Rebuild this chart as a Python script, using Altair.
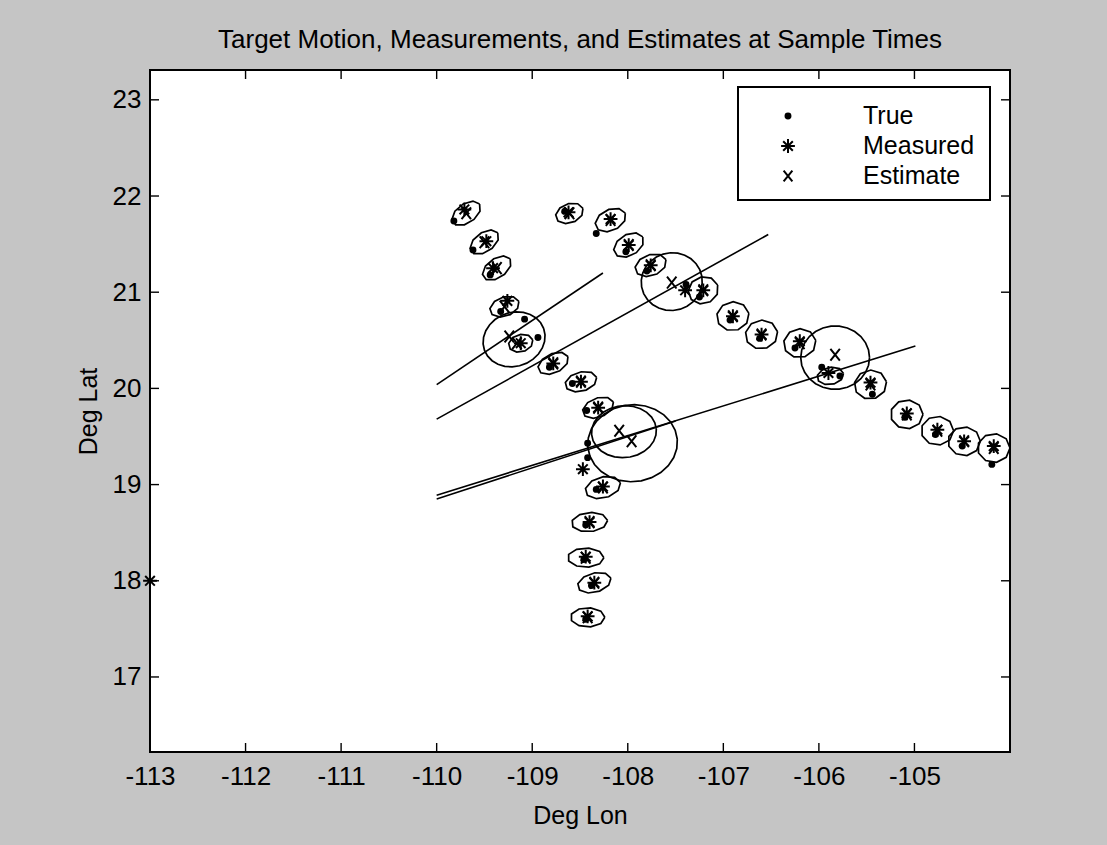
import altair as alt
import pandas as pd
import numpy as np

# ---------------- data ----------------
# Measured positions (asterisks)
meas_lon = [-109.71, -109.48, -109.41, -109.26, -109.12, -108.78, -108.49, -108.31,
            -108.62, -108.18, -107.99, -107.76, -107.40, -107.21, -106.90, -106.60,
            -106.20, -105.90, -105.46, -105.08, -104.76, -104.48, -104.17,
            -108.47, -108.26, -108.40, -108.44, -108.35, -108.42, -113.00]
meas_lat = [21.86, 21.53, 21.25, 20.91, 20.47, 20.26, 20.07, 19.80,
            21.83, 21.76, 21.49, 21.28, 21.02, 21.02, 20.75, 20.56,
            20.49, 20.16, 20.06, 19.74, 19.57, 19.45, 19.40,
            19.16, 18.98, 18.61, 18.25, 17.98, 17.63, 18.00]

# True positions (dots)
true_lon = [-109.82, -109.62, -109.44, -109.33, -109.08, -108.94, -108.82, -108.58, -108.43,
            -108.66, -108.33, -108.02, -107.80, -107.39, -107.25, -106.93, -106.62,
            -106.25, -105.97, -105.78, -105.44, -105.10, -104.78, -104.50, -104.19,
            -108.42, -108.42, -108.33, -108.44, -108.46, -108.38, -108.44]
true_lat = [21.74, 21.44, 21.18, 20.80, 20.72, 20.53, 20.22, 20.05, 19.77,
            21.84, 21.61, 21.42, 21.22, 21.08, 20.95, 20.71, 20.52,
            20.42, 20.22, 20.13, 19.94, 19.70, 19.52, 19.40, 19.21,
            19.43, 19.28, 18.95, 18.58, 18.22, 17.95, 17.60]

# Estimates (x marks)
est_lon = [-109.69, -109.50, -109.37, -109.29, -109.24, -109.16, -108.78, -108.49, -108.31,
           -108.61, -108.18, -107.99, -107.76, -107.54, -107.21, -106.90, -106.60,
           -106.20, -105.83, -105.46, -105.08, -104.76, -104.48, -104.17,
           -108.09, -107.96, -108.26, -108.40, -108.44, -108.35, -108.42]
est_lat = [21.82, 21.52, 21.25, 20.85, 20.54, 20.47, 20.26, 20.07, 19.80,
           21.82, 21.75, 21.49, 21.28, 21.10, 21.02, 20.75, 20.56,
           20.47, 20.35, 20.04, 19.73, 19.56, 19.45, 19.38,
           19.56, 19.45, 18.97, 18.61, 18.24, 17.98, 17.62]

# Error ellipses: centre, semi-axes (deg) and tilt (deg)
ell_lon = [-109.69, -109.50, -109.37, -109.29, -109.19, -109.12, -108.78, -108.49, -108.31,
           -108.61, -108.18, -107.99, -107.76, -107.54, -107.21, -106.90, -106.60,
           -106.20, -105.83, -105.88, -105.46, -105.08, -104.76, -104.48, -104.17,
           -108.04, -107.95, -108.26, -108.40, -108.44, -108.35, -108.42]
ell_lat = [21.82, 21.52, 21.25, 20.85, 20.51, 20.47, 20.26, 20.07, 19.80,
           21.82, 21.75, 21.49, 21.28, 21.11, 21.02, 20.75, 20.56,
           20.47, 20.32, 20.13, 20.04, 19.73, 19.56, 19.45, 19.38,
           19.55, 19.43, 18.97, 18.61, 18.24, 17.98, 17.62]
ell_a = [0.17, 0.17, 0.17, 0.16, 0.33, 0.13, 0.17, 0.17, 0.17,
         0.15, 0.17, 0.17, 0.17, 0.32, 0.16, 0.17, 0.17,
         0.17, 0.36, 0.14, 0.17, 0.17, 0.17, 0.17, 0.17,
         0.34, 0.47, 0.19, 0.19, 0.19, 0.18, 0.18]
ell_b = [0.10, 0.10, 0.10, 0.10, 0.28, 0.09, 0.10, 0.10, 0.10,
         0.10, 0.11, 0.11, 0.11, 0.30, 0.14, 0.15, 0.15,
         0.15, 0.33, 0.09, 0.15, 0.15, 0.15, 0.15, 0.15,
         0.27, 0.40, 0.11, 0.10, 0.10, 0.10, 0.10]
ell_tilt = [35, 35, 35, 20, 20, 15, 25, 15, 20,
            20, 25, 30, 20, 10, 20, 10, 10,
            10, 0, 10, 10, 0, 0, 0, 0,
            5, 5, 15, 5, 0, 15, 0]

# Lines of bearing: start and end
los_lon1 = [-110.00, -110.00, -110.00, -110.00]
los_lat1 = [20.04, 19.68, 18.89, 18.85]
los_lon2 = [-108.26, -106.53, -104.99, -107.50]
los_lat2 = [21.20, 21.60, 20.44, 19.66]

x_ticks = [-113, -112, -111, -110, -109, -108, -107, -106, -105]
y_ticks = [17, 18, 19, 20, 21, 22, 23]

legend_labels = ["True", "Measured", "Estimate"]

# ---------------- build tables ----------------
rows = []
for i in range(len(ell_lon)):
    big = ell_a[i] > 0.25
    n = 26 if big else 9
    th = np.radians(ell_tilt[i])
    for k in range(n + 1):
        t = 2 * np.pi * k / n
        ex = ell_a[i] * np.cos(t)
        ey = ell_b[i] * np.sin(t)
        rows.append({"id": i, "k": k,
                     "lon": ell_lon[i] + ex * np.cos(th) - ey * np.sin(th),
                     "lat": ell_lat[i] + ex * np.sin(th) + ey * np.cos(th)})
ell_df = pd.DataFrame(rows)

los_rows = []
for i in range(len(los_lon1)):
    los_rows.append({"id": i, "k": 0, "lon": los_lon1[i], "lat": los_lat1[i]})
    los_rows.append({"id": i, "k": 1, "lon": los_lon2[i], "lat": los_lat2[i]})
los_df = pd.DataFrame(los_rows)

meas_df = pd.DataFrame({"lon": meas_lon, "lat": meas_lat})
true_df = pd.DataFrame({"lon": true_lon, "lat": true_lat})
est_df = pd.DataFrame({"lon": est_lon, "lat": est_lat})
xt_df = pd.DataFrame({"v": x_ticks})
yt_df = pd.DataFrame({"v": y_ticks})
one = pd.DataFrame({"a": [0]})

W, H = 860, 682
FONT = "Liberation Sans, Arial, Helvetica"
ASTER = "M-1,0L1,0M0,-1L0,1M-0.7,-0.7L0.7,0.7M-0.7,0.7L0.7,-0.7"
XMARK = "M-0.8,-1L0.8,1M-0.8,1L0.8,-1"

xs = alt.Scale(domain=[-113, -104], nice=False, zero=False)
ys = alt.Scale(domain=[16.22, 23.31], nice=False, zero=False)

X = alt.X("lon:Q", scale=xs, title="Deg Lon",
          axis=alt.Axis(values=x_ticks, grid=False, ticks=False, tickSize=0, domain=False,
                        labelExpr="'' + datum.value", labelFlush=False, labelFont=FONT,
                        labelFontSize=26, labelColor="black", labelPadding=11,
                        titleFont=FONT, titleFontSize=25, titleFontWeight="normal",
                        titleColor="black", titleY=63, titleBaseline="middle"))
Y = alt.Y("lat:Q", scale=ys, title="Deg Lat",
          axis=alt.Axis(values=y_ticks, grid=False, ticks=False, tickSize=0, domain=False,
                        labelExpr="'' + datum.value", labelFlush=False, labelFont=FONT,
                        labelFontSize=26, labelColor="black", labelPadding=9,
                        titleFont=FONT, titleFontSize=25, titleFontWeight="normal",
                        titleColor="black", titleX=-62, titleY=H / 2,
                        titleAlign="center", titleBaseline="middle"))

ellipses = alt.Chart(ell_df).mark_line(color="black", strokeWidth=1.7).encode(
    x=X, y=Y, detail="id:N", order="k:Q")
lines = alt.Chart(los_df).mark_line(color="black", strokeWidth=1.6).encode(
    x=alt.X("lon:Q", scale=xs), y=alt.Y("lat:Q", scale=ys), detail="id:N", order="k:Q")
true_pts = alt.Chart(true_df).mark_point(shape="circle", filled=True, color="black", size=48, opacity=1).encode(
    x=alt.X("lon:Q", scale=xs), y=alt.Y("lat:Q", scale=ys))
meas_pts = alt.Chart(meas_df).mark_point(shape=ASTER, filled=False, color="black", size=190,
                                         strokeWidth=2.0, opacity=1).encode(
    x=alt.X("lon:Q", scale=xs), y=alt.Y("lat:Q", scale=ys))
est_pts = alt.Chart(est_df).mark_point(shape=XMARK, filled=False, color="black", size=140,
                                       strokeWidth=2.0, opacity=1).encode(
    x=alt.X("lon:Q", scale=xs), y=alt.Y("lat:Q", scale=ys))

# inward ticks on all four sides
tb = alt.Chart(xt_df).mark_rule(color="black", strokeWidth=1.4).encode(
    x=alt.X("v:Q", scale=xs), y=alt.value(H), y2=alt.value(H - 9))
tt = alt.Chart(xt_df).mark_rule(color="black", strokeWidth=1.4).encode(
    x=alt.X("v:Q", scale=xs), y=alt.value(0), y2=alt.value(9))
tl = alt.Chart(yt_df).mark_rule(color="black", strokeWidth=1.4).encode(
    y=alt.Y("v:Q", scale=ys), x=alt.value(0), x2=alt.value(9))
tr = alt.Chart(yt_df).mark_rule(color="black", strokeWidth=1.4).encode(
    y=alt.Y("v:Q", scale=ys), x=alt.value(W), x2=alt.value(W - 9))

# legend box (MATLAB style)
LX0, LX1, LY0, LY1 = 588, 840, 17, 130
SYM_X, TXT_X = 638, 713
ROW_Y = [46, 76, 106]
leg_box = alt.Chart(one).mark_rect(fill="white", stroke="black", strokeWidth=2).encode(
    x=alt.value(LX0), x2=alt.value(LX1), y=alt.value(LY0), y2=alt.value(LY1))
leg_texts = [
    alt.Chart(one).mark_text(align="left", baseline="middle", font=FONT, fontSize=25,
                             color="black", text=legend_labels[i]).encode(
        x=alt.value(TXT_X), y=alt.value(ROW_Y[i]))
    for i in range(3)
]
leg_sym_true = alt.Chart(one).mark_point(shape="circle", filled=True, color="black", size=48, opacity=1).encode(
    x=alt.value(SYM_X), y=alt.value(ROW_Y[0]))
leg_sym_meas = alt.Chart(one).mark_point(shape=ASTER, filled=False, color="black", size=190,
                                         strokeWidth=2.0, opacity=1).encode(
    x=alt.value(SYM_X), y=alt.value(ROW_Y[1]))
leg_sym_est = alt.Chart(one).mark_point(shape=XMARK, filled=False, color="black", size=120,
                                        strokeWidth=2.0, opacity=1).encode(
    x=alt.value(SYM_X), y=alt.value(ROW_Y[2]))

chart = alt.layer(
    ellipses, lines, true_pts, meas_pts, est_pts, tb, tt, tl, tr,
    leg_box, *leg_texts, leg_sym_true, leg_sym_meas, leg_sym_est
).properties(
    width=W, height=H,
    title=alt.TitleParams("Target Motion, Measurements, and Estimates at Sample Times",
                          font=FONT, fontSize=26, fontWeight="normal", color="black",
                          anchor="middle", offset=16),
    autosize=alt.AutoSizeParams(type="none"),
    padding={"left": 150, "top": 70, "right": 97, "bottom": 93},
    background="#c5c5c5",
).configure_view(fill="white", stroke="black", strokeWidth=2)

chart.save("out.html", embed_options={"renderer": "svg", "actions": False})
